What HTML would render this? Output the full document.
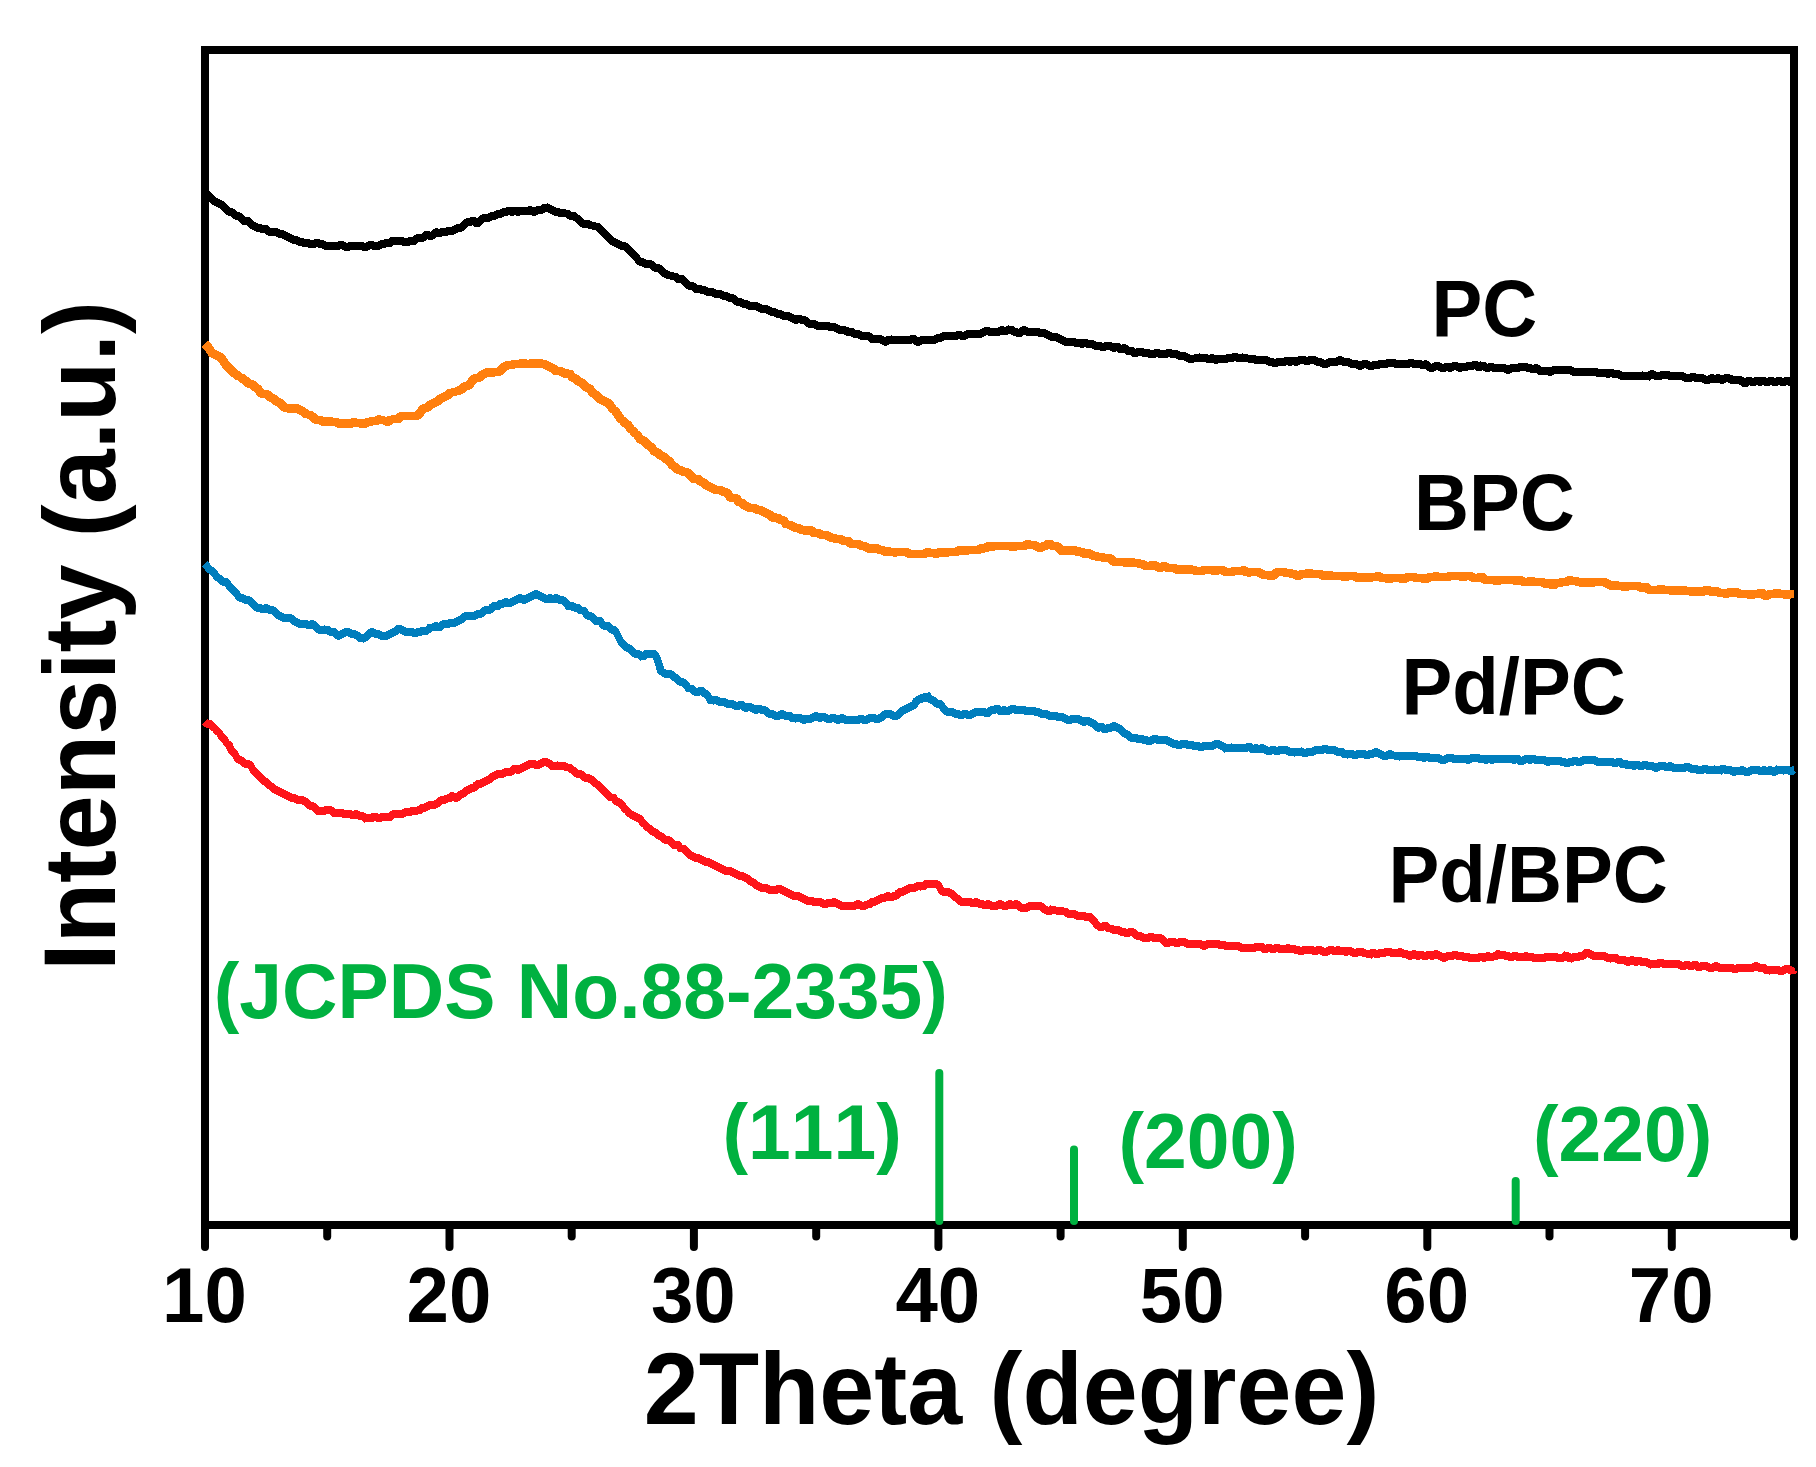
<!DOCTYPE html>
<html lang="en">
<head>
<meta charset="utf-8">
<title>XRD patterns</title>
<style>
html,body{margin:0;padding:0;background:#fff;}
body{width:1816px;height:1467px;overflow:hidden;}
svg{display:block;}
svg text{font-kerning:none;font-family:"Liberation Sans",Arial,Helvetica,sans-serif;font-weight:bold;}
.lab{font-size:76.2px;fill:#000;}
.grn{font-size:76.8px;fill:#00b140;}
.ttl{font-size:98.8px;fill:#000;}
.curve{fill:none;stroke-linejoin:bevel;stroke-linecap:butt;shape-rendering:crispEdges;}
</style>
</head>
<body>
<svg width="1816" height="1467" viewBox="0 0 1816 1467">
<rect x="0" y="0" width="1816" height="1467" fill="#ffffff"/>
<!-- frame -->
<rect x="205" y="50" width="1589" height="1175" fill="none" stroke="#000" stroke-width="8"/>
<!-- ticks -->
<g stroke="#000" stroke-width="8" stroke-linecap="round">
<line x1="205.0" y1="1225" x2="205.0" y2="1247"/>
<line x1="327.2" y1="1225" x2="327.2" y2="1236.5"/>
<line x1="449.5" y1="1225" x2="449.5" y2="1247"/>
<line x1="571.7" y1="1225" x2="571.7" y2="1236.5"/>
<line x1="693.9" y1="1225" x2="693.9" y2="1247"/>
<line x1="816.2" y1="1225" x2="816.2" y2="1236.5"/>
<line x1="938.4" y1="1225" x2="938.4" y2="1247"/>
<line x1="1060.6" y1="1225" x2="1060.6" y2="1236.5"/>
<line x1="1182.8" y1="1225" x2="1182.8" y2="1247"/>
<line x1="1305.1" y1="1225" x2="1305.1" y2="1236.5"/>
<line x1="1427.3" y1="1225" x2="1427.3" y2="1247"/>
<line x1="1549.5" y1="1225" x2="1549.5" y2="1236.5"/>
<line x1="1671.8" y1="1225" x2="1671.8" y2="1247"/>
<line x1="1794.0" y1="1225" x2="1794.0" y2="1236.5"/>
</g>
<!-- reference lines -->
<g stroke="#00b140" stroke-width="8" stroke-linecap="round">
<line x1="939.3" y1="1221" x2="939.3" y2="1073"/>
<line x1="1074" y1="1221" x2="1074" y2="1149.5"/>
<line x1="1515.7" y1="1221" x2="1515.7" y2="1181"/>
</g>
<!-- curves -->
<path class="curve" stroke="#000000" stroke-width="7.5" d="M205 194L207 194L209 196L211 198L213 200L215 202L217 202L219 204L221 204L223 206L225 208L227 210L229 212L231 212L233 212L235 216L237 216L239 216L241 218L243 220L245 222L247 220L249 222L251 224L253 226L255 226L257 228L259 228L261 228L263 230L265 228L267 230L269 232L271 232L273 232L275 232L277 232L279 234L281 234L283 234L285 236L287 236L289 238L291 238L293 240L295 240L297 240L299 242L301 242L303 242L305 244L307 242L309 244L311 244L313 244L315 244L317 242L319 244L321 244L323 244L325 246L327 246L329 246L331 246L333 246L335 246L337 246L339 246L341 244L343 246L345 246L347 248L349 246L351 246L353 246L355 246L357 246L359 246L361 246L363 246L365 248L367 246L369 246L371 244L373 246L375 246L377 246L379 246L381 244L383 244L385 244L387 242L389 244L391 242L393 240L395 242L397 240L399 242L401 240L403 242L405 242L407 242L409 242L411 240L413 242L415 240L417 238L419 238L421 238L423 238L425 236L427 234L429 236L431 236L433 236L435 232L437 232L439 234L441 232L443 232L445 232L447 232L449 230L451 232L453 230L455 230L457 228L459 228L461 228L463 226L465 224L467 222L469 222L471 222L473 220L475 222L477 224L479 222L481 220L483 218L485 218L487 218L489 218L491 216L493 216L495 216L497 214L499 214L501 214L503 212L505 212L507 212L509 210L511 212L513 212L515 210L517 212L519 212L521 210L523 212L525 210L527 212L529 210L531 210L533 212L535 212L537 210L539 210L541 210L543 210L545 206L547 208L549 208L551 210L553 210L555 212L557 212L559 212L561 214L563 212L565 214L567 212L569 216L571 216L573 214L575 218L577 218L579 220L581 222L583 224L585 224L587 224L589 224L591 226L593 224L595 228L597 226L599 228L601 230L603 232L605 234L607 236L609 238L611 240L613 242L615 242L617 244L619 244L621 246L623 246L625 246L627 248L629 250L631 252L633 254L635 256L637 258L639 262L641 262L643 262L645 264L647 264L649 264L651 264L653 266L655 268L657 268L659 268L661 270L663 272L665 274L667 274L669 276L671 274L673 278L675 276L677 278L679 280L681 278L683 280L685 282L687 284L689 286L691 286L693 286L695 288L697 290L699 288L701 290L703 290L705 290L707 292L709 292L711 292L713 292L715 294L717 294L719 294L721 294L723 296L725 296L727 296L729 298L731 298L733 298L735 300L737 302L739 302L741 302L743 304L745 304L747 304L749 306L751 306L753 306L755 306L757 306L759 308L761 308L763 310L765 308L767 310L769 310L771 312L773 312L775 312L777 314L779 314L781 314L783 316L785 316L787 316L789 316L791 318L793 318L795 320L797 320L799 318L801 320L803 320L805 320L807 322L809 324L811 324L813 324L815 324L817 326L819 326L821 326L823 326L825 326L827 326L829 326L831 328L833 326L835 328L837 328L839 330L841 330L843 330L845 330L847 332L849 332L851 330L853 334L855 334L857 334L859 334L861 336L863 336L865 336L867 336L869 336L871 338L873 340L875 338L877 340L879 338L881 340L883 340L885 342L887 342L889 338L891 340L893 340L895 340L897 340L899 340L901 340L903 340L905 340L907 340L909 340L911 340L913 338L915 340L917 342L919 342L921 340L923 340L925 340L927 340L929 340L931 340L933 340L935 340L937 338L939 338L941 338L943 336L945 336L947 336L949 336L951 336L953 336L955 336L957 336L959 334L961 336L963 336L965 336L967 334L969 334L971 334L973 334L975 334L977 334L979 334L981 334L983 332L985 332L987 330L989 332L991 332L993 332L995 332L997 332L999 332L1001 330L1003 330L1005 332L1007 330L1009 330L1011 328L1013 332L1015 332L1017 332L1019 334L1021 332L1023 330L1025 330L1027 332L1029 332L1031 332L1033 332L1035 332L1037 332L1039 332L1041 334L1043 332L1045 334L1047 334L1049 336L1051 336L1053 338L1055 336L1057 338L1059 338L1061 340L1063 340L1065 342L1067 342L1069 342L1071 342L1073 342L1075 342L1077 344L1079 342L1081 344L1083 344L1085 342L1087 344L1089 344L1091 344L1093 344L1095 346L1097 346L1099 346L1101 346L1103 348L1105 346L1107 346L1109 346L1111 346L1113 348L1115 348L1117 346L1119 348L1121 350L1123 348L1125 348L1127 350L1129 352L1131 350L1133 352L1135 354L1137 352L1139 352L1141 352L1143 352L1145 354L1147 352L1149 354L1151 354L1153 354L1155 354L1157 352L1159 354L1161 354L1163 354L1165 354L1167 354L1169 352L1171 354L1173 354L1175 354L1177 354L1179 356L1181 356L1183 356L1185 356L1187 358L1189 358L1191 360L1193 358L1195 360L1197 356L1199 358L1201 358L1203 358L1205 358L1207 358L1209 360L1211 358L1213 358L1215 360L1217 360L1219 358L1221 360L1223 358L1225 360L1227 358L1229 358L1231 358L1233 358L1235 356L1237 358L1239 358L1241 358L1243 358L1245 356L1247 360L1249 358L1251 360L1253 358L1255 360L1257 360L1259 360L1261 360L1263 360L1265 360L1267 360L1269 362L1271 362L1273 362L1275 364L1277 362L1279 362L1281 362L1283 362L1285 362L1287 360L1289 362L1291 362L1293 360L1295 362L1297 362L1299 360L1301 360L1303 360L1305 360L1307 362L1309 360L1311 360L1313 360L1315 360L1317 362L1319 362L1321 362L1323 364L1325 364L1327 364L1329 362L1331 362L1333 362L1335 362L1337 362L1339 360L1341 360L1343 362L1345 362L1347 362L1349 362L1351 364L1353 364L1355 364L1357 364L1359 366L1361 366L1363 364L1365 364L1367 364L1369 366L1371 366L1373 366L1375 364L1377 366L1379 364L1381 364L1383 364L1385 364L1387 364L1389 362L1391 364L1393 362L1395 364L1397 364L1399 364L1401 364L1403 364L1405 364L1407 364L1409 364L1411 362L1413 364L1415 364L1417 364L1419 364L1421 364L1423 366L1425 364L1427 364L1429 368L1431 368L1433 368L1435 366L1437 366L1439 366L1441 368L1443 368L1445 368L1447 366L1449 368L1451 368L1453 366L1455 366L1457 366L1459 368L1461 368L1463 366L1465 368L1467 366L1469 366L1471 366L1473 366L1475 364L1477 366L1479 368L1481 366L1483 364L1485 368L1487 368L1489 368L1491 366L1493 368L1495 368L1497 368L1499 368L1501 368L1503 368L1505 368L1507 370L1509 370L1511 368L1513 368L1515 368L1517 368L1519 368L1521 366L1523 368L1525 366L1527 368L1529 368L1531 368L1533 370L1535 368L1537 368L1539 370L1541 372L1543 370L1545 372L1547 370L1549 372L1551 372L1553 370L1555 370L1557 370L1559 370L1561 370L1563 370L1565 370L1567 370L1569 370L1571 370L1573 372L1575 372L1577 372L1579 372L1581 372L1583 372L1585 372L1587 372L1589 372L1591 372L1593 372L1595 372L1597 372L1599 374L1601 372L1603 374L1605 372L1607 374L1609 374L1611 372L1613 374L1615 374L1617 374L1619 374L1621 376L1623 376L1625 376L1627 376L1629 376L1631 376L1633 376L1635 376L1637 376L1639 376L1641 376L1643 376L1645 374L1647 378L1649 376L1651 374L1653 374L1655 376L1657 376L1659 376L1661 376L1663 374L1665 376L1667 374L1669 376L1671 376L1673 376L1675 376L1677 376L1679 376L1681 376L1683 376L1685 378L1687 378L1689 378L1691 378L1693 376L1695 378L1697 378L1699 378L1701 378L1703 378L1705 380L1707 380L1709 380L1711 378L1713 378L1715 380L1717 378L1719 378L1721 380L1723 380L1725 378L1727 378L1729 378L1731 380L1733 380L1735 378L1737 382L1739 380L1741 380L1743 382L1745 384L1747 382L1749 380L1751 382L1753 382L1755 382L1757 380L1759 382L1761 382L1763 380L1765 382L1767 382L1769 382L1771 380L1773 382L1775 382L1777 382L1779 380L1781 382L1783 382L1785 382L1787 380L1789 382L1791 382L1793 382L1794 382"/>
<path class="curve" stroke="#ff7f0e" stroke-width="8.6" d="M205 344L207 346L209 348L211 352L213 354L215 354L217 356L219 356L221 358L223 360L225 364L227 366L229 368L231 370L233 372L235 374L237 374L239 378L241 376L243 380L245 380L247 382L249 384L251 384L253 384L255 388L257 388L259 390L261 394L263 394L265 394L267 394L269 396L271 398L273 398L275 400L277 402L279 402L281 404L283 406L285 408L287 408L289 408L291 410L293 408L295 408L297 408L299 410L301 410L303 412L305 412L307 416L309 414L311 416L313 416L315 420L317 420L319 420L321 420L323 422L325 422L327 422L329 420L331 422L333 422L335 422L337 422L339 424L341 424L343 424L345 422L347 424L349 424L351 424L353 422L355 422L357 424L359 422L361 424L363 424L365 424L367 422L369 422L371 422L373 420L375 422L377 420L379 420L381 418L383 422L385 420L387 422L389 422L391 418L393 420L395 418L397 420L399 418L401 416L403 416L405 416L407 416L409 416L411 416L413 416L415 416L417 416L419 414L421 412L423 408L425 408L427 408L429 406L431 404L433 404L435 402L437 402L439 400L441 398L443 398L445 396L447 396L449 394L451 392L453 394L455 390L457 392L459 390L461 390L463 388L465 386L467 386L469 386L471 382L473 380L475 378L477 378L479 378L481 376L483 374L485 374L487 372L489 372L491 374L493 372L495 372L497 372L499 372L501 370L503 368L505 366L507 366L509 364L511 366L513 364L515 364L517 364L519 364L521 364L523 362L525 364L527 364L529 364L531 364L533 362L535 364L537 364L539 362L541 364L543 364L545 364L547 366L549 366L551 368L553 368L555 370L557 372L559 370L561 372L563 372L565 374L567 374L569 372L571 376L573 378L575 378L577 380L579 382L581 382L583 384L585 386L587 388L589 388L591 390L593 394L595 394L597 396L599 398L601 400L603 400L605 402L607 402L609 404L611 406L613 410L615 410L617 414L619 416L621 420L623 420L625 424L627 424L629 426L631 430L633 430L635 434L637 434L639 438L641 440L643 440L645 442L647 444L649 446L651 446L653 450L655 452L657 452L659 454L661 456L663 456L665 458L667 460L669 460L671 464L673 466L675 466L677 470L679 470L681 470L683 472L685 472L687 472L689 474L691 476L693 478L695 480L697 478L699 480L701 482L703 482L705 484L707 486L709 486L711 488L713 488L715 490L717 490L719 490L721 490L723 492L725 492L727 492L729 496L731 498L733 498L735 498L737 498L739 504L741 502L743 504L745 506L747 506L749 508L751 508L753 508L755 508L757 510L759 510L761 510L763 512L765 512L767 514L769 514L771 516L773 518L775 518L777 516L779 520L781 520L783 520L785 522L787 526L789 524L791 526L793 526L795 528L797 528L799 528L801 530L803 530L805 530L807 532L809 530L811 530L813 532L815 534L817 532L819 534L821 534L823 536L825 534L827 536L829 536L831 538L833 538L835 538L837 540L839 538L841 540L843 540L845 542L847 540L849 542L851 544L853 544L855 544L857 544L859 544L861 546L863 546L865 546L867 548L869 548L871 550L873 548L875 548L877 548L879 550L881 550L883 550L885 552L887 552L889 552L891 550L893 554L895 552L897 552L899 552L901 552L903 552L905 552L907 552L909 554L911 554L913 554L915 554L917 554L919 554L921 554L923 554L925 554L927 552L929 552L931 554L933 552L935 554L937 554L939 552L941 552L943 552L945 554L947 552L949 552L951 552L953 552L955 552L957 552L959 550L961 550L963 550L965 552L967 550L969 550L971 550L973 550L975 550L977 550L979 550L981 548L983 548L985 550L987 546L989 546L991 548L993 546L995 546L997 546L999 546L1001 546L1003 546L1005 546L1007 546L1009 546L1011 546L1013 548L1015 546L1017 546L1019 546L1021 546L1023 546L1025 546L1027 544L1029 544L1031 546L1033 544L1035 546L1037 546L1039 548L1041 548L1043 546L1045 546L1047 546L1049 542L1051 546L1053 546L1055 546L1057 546L1059 548L1061 550L1063 552L1065 550L1067 550L1069 552L1071 550L1073 550L1075 550L1077 552L1079 552L1081 550L1083 554L1085 554L1087 552L1089 554L1091 554L1093 556L1095 556L1097 556L1099 558L1101 556L1103 558L1105 558L1107 558L1109 558L1111 558L1113 562L1115 562L1117 562L1119 562L1121 562L1123 562L1125 562L1127 564L1129 562L1131 562L1133 562L1135 564L1137 562L1139 564L1141 564L1143 564L1145 566L1147 566L1149 566L1151 566L1153 564L1155 566L1157 566L1159 568L1161 568L1163 566L1165 566L1167 568L1169 568L1171 568L1173 568L1175 568L1177 570L1179 570L1181 568L1183 570L1185 570L1187 570L1189 568L1191 570L1193 570L1195 570L1197 572L1199 570L1201 572L1203 570L1205 570L1207 570L1209 570L1211 570L1213 570L1215 572L1217 570L1219 570L1221 570L1223 570L1225 572L1227 572L1229 572L1231 572L1233 572L1235 570L1237 572L1239 570L1241 572L1243 570L1245 570L1247 574L1249 572L1251 572L1253 572L1255 572L1257 572L1259 572L1261 574L1263 574L1265 576L1267 574L1269 576L1271 576L1273 576L1275 574L1277 572L1279 572L1281 572L1283 572L1285 572L1287 574L1289 572L1291 574L1293 574L1295 574L1297 576L1299 576L1301 574L1303 574L1305 574L1307 574L1309 572L1311 574L1313 574L1315 574L1317 574L1319 574L1321 574L1323 576L1325 576L1327 576L1329 574L1331 576L1333 576L1335 576L1337 576L1339 576L1341 576L1343 576L1345 578L1347 576L1349 576L1351 576L1353 576L1355 576L1357 578L1359 578L1361 576L1363 578L1365 578L1367 576L1369 578L1371 578L1373 576L1375 578L1377 576L1379 576L1381 578L1383 578L1385 578L1387 578L1389 580L1391 578L1393 578L1395 578L1397 578L1399 578L1401 578L1403 580L1405 578L1407 578L1409 576L1411 578L1413 576L1415 578L1417 578L1419 578L1421 578L1423 578L1425 580L1427 578L1429 578L1431 576L1433 578L1435 576L1437 576L1439 578L1441 576L1443 578L1445 576L1447 578L1449 576L1451 576L1453 576L1455 576L1457 576L1459 576L1461 576L1463 578L1465 576L1467 576L1469 576L1471 576L1473 578L1475 578L1477 578L1479 578L1481 576L1483 578L1485 580L1487 580L1489 580L1491 580L1493 580L1495 580L1497 582L1499 580L1501 580L1503 580L1505 580L1507 580L1509 580L1511 580L1513 580L1515 580L1517 582L1519 580L1521 580L1523 582L1525 582L1527 582L1529 582L1531 580L1533 582L1535 582L1537 582L1539 582L1541 582L1543 582L1545 584L1547 584L1549 582L1551 584L1553 586L1555 584L1557 582L1559 584L1561 582L1563 582L1565 582L1567 582L1569 580L1571 580L1573 582L1575 580L1577 582L1579 582L1581 582L1583 584L1585 582L1587 582L1589 582L1591 584L1593 582L1595 582L1597 582L1599 582L1601 582L1603 582L1605 582L1607 584L1609 584L1611 586L1613 586L1615 584L1617 586L1619 586L1621 586L1623 586L1625 588L1627 586L1629 586L1631 586L1633 586L1635 586L1637 586L1639 586L1641 588L1643 588L1645 586L1647 588L1649 590L1651 590L1653 590L1655 590L1657 590L1659 590L1661 588L1663 590L1665 590L1667 590L1669 590L1671 590L1673 592L1675 590L1677 590L1679 592L1681 590L1683 590L1685 590L1687 592L1689 590L1691 592L1693 592L1695 592L1697 590L1699 592L1701 592L1703 592L1705 590L1707 590L1709 590L1711 592L1713 592L1715 590L1717 592L1719 592L1721 594L1723 592L1725 594L1727 594L1729 592L1731 592L1733 594L1735 592L1737 592L1739 594L1741 594L1743 594L1745 594L1747 594L1749 594L1751 596L1753 594L1755 594L1757 594L1759 594L1761 592L1763 594L1765 596L1767 596L1769 594L1771 594L1773 594L1775 594L1777 592L1779 594L1781 594L1783 594L1785 594L1787 596L1789 594L1791 594L1793 594L1794 594"/>
<path class="curve" stroke="#007ebd" stroke-width="7.6" d="M205 564L207 566L209 570L211 570L213 572L215 574L217 578L219 578L221 580L223 582L225 582L227 582L229 586L231 588L233 590L235 592L237 594L239 598L241 598L243 598L245 600L247 600L249 600L251 602L253 604L255 606L257 608L259 608L261 608L263 610L265 608L267 608L269 610L271 610L273 610L275 612L277 614L279 616L281 616L283 618L285 618L287 618L289 618L291 618L293 620L295 622L297 622L299 624L301 624L303 624L305 624L307 624L309 626L311 624L313 624L315 626L317 628L319 630L321 630L323 630L325 630L327 628L329 632L331 632L333 632L335 632L337 636L339 636L341 634L343 634L345 632L347 632L349 632L351 634L353 634L355 634L357 636L359 636L361 640L363 638L365 638L367 636L369 634L371 632L373 632L375 634L377 634L379 634L381 636L383 636L385 636L387 636L389 634L391 634L393 632L395 632L397 630L399 628L401 630L403 630L405 632L407 632L409 632L411 632L413 632L415 634L417 632L419 632L421 632L423 630L425 632L427 630L429 630L431 626L433 628L435 626L437 626L439 628L441 626L443 624L445 624L447 624L449 624L451 622L453 624L455 622L457 622L459 620L461 620L463 618L465 616L467 616L469 616L471 616L473 616L475 616L477 614L479 614L481 614L483 612L485 610L487 610L489 610L491 610L493 606L495 606L497 608L499 604L501 604L503 604L505 602L507 602L509 604L511 602L513 602L515 600L517 600L519 598L521 598L523 600L525 600L527 598L529 598L531 596L533 596L535 594L537 594L539 596L541 596L543 598L545 598L547 600L549 598L551 598L553 600L555 598L557 598L559 600L561 600L563 600L565 602L567 604L569 608L571 606L573 606L575 608L577 608L579 608L581 612L583 610L585 612L587 616L589 616L591 616L593 618L595 620L597 622L599 620L601 622L603 626L605 626L607 626L609 626L611 630L613 630L615 630L617 634L619 638L621 642L623 644L625 646L627 648L629 648L631 650L633 652L635 654L637 654L639 654L641 656L643 658L645 654L647 654L649 654L651 654L653 654L655 654L657 658L659 664L661 672L663 672L665 674L667 674L669 674L671 674L673 676L675 678L677 678L679 682L681 682L683 682L685 684L687 686L689 690L691 688L693 690L695 692L697 692L699 692L701 690L703 692L705 694L707 694L709 698L711 702L713 700L715 700L717 700L719 702L721 702L723 702L725 702L727 704L729 704L731 704L733 704L735 706L737 706L739 706L741 704L743 706L745 708L747 708L749 706L751 708L753 708L755 710L757 710L759 708L761 710L763 710L765 710L767 712L769 714L771 714L773 714L775 716L777 716L779 716L781 714L783 714L785 716L787 716L789 716L791 716L793 720L795 718L797 718L799 718L801 718L803 720L805 720L807 718L809 720L811 718L813 718L815 716L817 716L819 718L821 718L823 716L825 718L827 718L829 720L831 718L833 718L835 718L837 720L839 720L841 718L843 718L845 720L847 720L849 720L851 720L853 720L855 720L857 720L859 720L861 718L863 720L865 720L867 720L869 718L871 718L873 718L875 718L877 720L879 718L881 718L883 716L885 714L887 714L889 714L891 714L893 716L895 716L897 716L899 714L901 712L903 710L905 710L907 708L909 708L911 706L913 706L915 704L917 700L919 700L921 698L923 698L925 700L927 694L929 698L931 700L933 700L935 702L937 704L939 704L941 704L943 708L945 710L947 712L949 712L951 712L953 712L955 714L957 714L959 714L961 716L963 714L965 714L967 714L969 716L971 714L973 714L975 712L977 712L979 712L981 712L983 712L985 712L987 714L989 712L991 710L993 710L995 710L997 708L999 710L1001 712L1003 710L1005 710L1007 712L1009 710L1011 710L1013 708L1015 710L1017 710L1019 710L1021 710L1023 710L1025 710L1027 712L1029 710L1031 712L1033 710L1035 712L1037 712L1039 712L1041 714L1043 714L1045 714L1047 714L1049 716L1051 716L1053 716L1055 716L1057 716L1059 718L1061 716L1063 718L1065 718L1067 720L1069 720L1071 720L1073 718L1075 720L1077 718L1079 720L1081 720L1083 722L1085 722L1087 720L1089 722L1091 722L1093 724L1095 724L1097 728L1099 728L1101 726L1103 728L1105 730L1107 728L1109 728L1111 728L1113 726L1115 726L1117 728L1119 728L1121 730L1123 732L1125 734L1127 734L1129 736L1131 738L1133 738L1135 738L1137 738L1139 740L1141 738L1143 740L1145 740L1147 740L1149 742L1151 740L1153 740L1155 738L1157 740L1159 740L1161 740L1163 740L1165 740L1167 740L1169 742L1171 742L1173 744L1175 744L1177 744L1179 746L1181 744L1183 744L1185 744L1187 744L1189 746L1191 744L1193 746L1195 746L1197 746L1199 746L1201 748L1203 746L1205 746L1207 746L1209 746L1211 746L1213 746L1215 744L1217 744L1219 744L1221 746L1223 746L1225 748L1227 750L1229 746L1231 748L1233 748L1235 748L1237 748L1239 748L1241 748L1243 748L1245 748L1247 748L1249 746L1251 748L1253 750L1255 748L1257 748L1259 750L1261 748L1263 748L1265 750L1267 750L1269 752L1271 750L1273 750L1275 750L1277 752L1279 750L1281 750L1283 750L1285 750L1287 750L1289 752L1291 752L1293 752L1295 752L1297 754L1299 750L1301 752L1303 752L1305 754L1307 752L1309 752L1311 752L1313 752L1315 750L1317 750L1319 750L1321 750L1323 750L1325 748L1327 750L1329 750L1331 750L1333 750L1335 750L1337 752L1339 752L1341 752L1343 752L1345 756L1347 754L1349 754L1351 754L1353 754L1355 756L1357 754L1359 754L1361 754L1363 754L1365 754L1367 756L1369 754L1371 754L1373 754L1375 752L1377 752L1379 754L1381 754L1383 756L1385 756L1387 756L1389 754L1391 754L1393 756L1395 754L1397 758L1399 756L1401 756L1403 756L1405 756L1407 756L1409 756L1411 756L1413 756L1415 756L1417 756L1419 758L1421 756L1423 758L1425 758L1427 756L1429 758L1431 758L1433 758L1435 758L1437 758L1439 758L1441 760L1443 760L1445 760L1447 758L1449 758L1451 758L1453 758L1455 760L1457 758L1459 760L1461 758L1463 760L1465 758L1467 760L1469 760L1471 758L1473 758L1475 758L1477 758L1479 758L1481 760L1483 758L1485 760L1487 760L1489 758L1491 760L1493 760L1495 758L1497 760L1499 758L1501 760L1503 758L1505 760L1507 758L1509 760L1511 758L1513 760L1515 760L1517 758L1519 760L1521 762L1523 760L1525 760L1527 758L1529 760L1531 760L1533 758L1535 760L1537 760L1539 760L1541 760L1543 760L1545 760L1547 762L1549 762L1551 760L1553 762L1555 760L1557 762L1559 760L1561 762L1563 762L1565 762L1567 764L1569 762L1571 762L1573 762L1575 760L1577 762L1579 762L1581 762L1583 760L1585 760L1587 760L1589 760L1591 760L1593 760L1595 760L1597 762L1599 762L1601 762L1603 762L1605 762L1607 762L1609 762L1611 762L1613 762L1615 764L1617 762L1619 762L1621 762L1623 766L1625 764L1627 764L1629 766L1631 764L1633 766L1635 766L1637 764L1639 766L1641 766L1643 766L1645 764L1647 766L1649 766L1651 766L1653 766L1655 768L1657 768L1659 766L1661 766L1663 766L1665 766L1667 768L1669 766L1671 766L1673 768L1675 768L1677 768L1679 768L1681 768L1683 768L1685 768L1687 766L1689 768L1691 768L1693 770L1695 768L1697 770L1699 770L1701 770L1703 770L1705 768L1707 770L1709 770L1711 770L1713 770L1715 770L1717 768L1719 772L1721 770L1723 768L1725 770L1727 770L1729 770L1731 770L1733 772L1735 772L1737 770L1739 772L1741 770L1743 770L1745 772L1747 772L1749 772L1751 770L1753 770L1755 770L1757 770L1759 770L1761 772L1763 770L1765 770L1767 772L1769 770L1771 770L1773 772L1775 772L1777 770L1779 768L1781 772L1783 770L1785 770L1787 770L1789 770L1791 772L1793 770L1794 770"/>
<path class="curve" stroke="#fe151a" stroke-width="7.6" d="M205 722L207 724L209 724L211 724L213 728L215 728L217 732L219 732L221 736L223 738L225 740L227 744L229 744L231 750L233 752L235 754L237 758L239 760L241 760L243 762L245 764L247 764L249 764L251 766L253 770L255 772L257 774L259 776L261 778L263 780L265 782L267 782L269 786L271 786L273 788L275 790L277 790L279 792L281 792L283 794L285 794L287 796L289 796L291 798L293 798L295 798L297 800L299 800L301 800L303 800L305 802L307 802L309 806L311 806L313 806L315 808L317 810L319 812L321 810L323 812L325 810L327 810L329 810L331 810L333 812L335 814L337 812L339 814L341 812L343 814L345 814L347 814L349 814L351 814L353 816L355 814L357 814L359 816L361 816L363 816L365 818L367 820L369 816L371 818L373 818L375 816L377 818L379 818L381 818L383 816L385 818L387 816L389 818L391 816L393 814L395 814L397 814L399 814L401 814L403 814L405 812L407 812L409 812L411 812L413 810L415 812L417 810L419 812L421 808L423 808L425 808L427 806L429 806L431 804L433 806L435 804L437 804L439 802L441 800L443 800L445 800L447 798L449 800L451 796L453 796L455 798L457 798L459 796L461 794L463 794L465 792L467 790L469 790L471 788L473 788L475 788L477 784L479 784L481 784L483 782L485 782L487 780L489 780L491 778L493 776L495 776L497 774L499 774L501 774L503 774L505 772L507 772L509 772L511 772L513 770L515 768L517 770L519 770L521 768L523 768L525 766L527 766L529 764L531 764L533 764L535 764L537 766L539 764L541 764L543 762L545 762L547 762L549 764L551 764L553 768L555 764L557 766L559 766L561 766L563 766L565 766L567 768L569 766L571 770L573 770L575 772L577 774L579 774L581 774L583 776L585 778L587 778L589 778L591 780L593 780L595 784L597 784L599 786L601 788L603 790L605 792L607 794L609 796L611 798L613 796L615 800L617 802L619 802L621 804L623 806L625 810L627 810L629 814L631 814L633 816L635 816L637 818L639 818L641 820L643 824L645 824L647 828L649 828L651 830L653 832L655 832L657 834L659 836L661 836L663 838L665 840L667 840L669 840L671 842L673 844L675 846L677 844L679 846L681 850L683 848L685 850L687 852L689 854L691 856L693 856L695 858L697 858L699 858L701 860L703 860L705 862L707 862L709 862L711 864L713 864L715 866L717 866L719 868L721 868L723 870L725 870L727 872L729 870L731 872L733 872L735 874L737 874L739 876L741 876L743 876L745 878L747 878L749 880L751 882L753 882L755 884L757 886L759 886L761 888L763 888L765 888L767 888L769 890L771 890L773 890L775 890L777 890L779 888L781 890L783 890L785 892L787 892L789 894L791 894L793 896L795 896L797 896L799 896L801 898L803 898L805 900L807 900L809 902L811 900L813 902L815 902L817 902L819 902L821 902L823 904L825 904L827 904L829 902L831 904L833 902L835 902L837 904L839 904L841 906L843 906L845 906L847 906L849 906L851 906L853 906L855 906L857 904L859 904L861 906L863 906L865 906L867 904L869 906L871 902L873 902L875 902L877 900L879 900L881 898L883 898L885 898L887 896L889 896L891 898L893 896L895 896L897 896L899 892L901 892L903 892L905 890L907 890L909 888L911 888L913 888L915 888L917 886L919 886L921 886L923 888L925 884L927 884L929 884L931 884L933 884L935 884L937 884L939 886L941 890L943 892L945 892L947 892L949 892L951 894L953 894L955 898L957 898L959 900L961 902L963 902L965 902L967 902L969 902L971 902L973 904L975 902L977 902L979 904L981 904L983 904L985 906L987 904L989 904L991 906L993 906L995 906L997 906L999 904L1001 904L1003 906L1005 906L1007 906L1009 904L1011 904L1013 906L1015 904L1017 904L1019 906L1021 908L1023 908L1025 908L1027 908L1029 906L1031 906L1033 906L1035 906L1037 906L1039 906L1041 906L1043 908L1045 910L1047 910L1049 912L1051 910L1053 908L1055 912L1057 910L1059 912L1061 910L1063 912L1065 910L1067 914L1069 914L1071 914L1073 914L1075 914L1077 916L1079 916L1081 916L1083 916L1085 916L1087 918L1089 916L1091 918L1093 920L1095 922L1097 926L1099 926L1101 928L1103 926L1105 926L1107 926L1109 930L1111 928L1113 930L1115 930L1117 930L1119 930L1121 932L1123 932L1125 932L1127 934L1129 932L1131 932L1133 932L1135 934L1137 936L1139 936L1141 936L1143 938L1145 938L1147 938L1149 938L1151 936L1153 938L1155 938L1157 938L1159 938L1161 938L1163 940L1165 942L1167 944L1169 942L1171 942L1173 942L1175 942L1177 944L1179 942L1181 942L1183 942L1185 942L1187 944L1189 944L1191 944L1193 944L1195 944L1197 944L1199 944L1201 944L1203 946L1205 946L1207 944L1209 944L1211 944L1213 944L1215 944L1217 944L1219 944L1221 946L1223 944L1225 946L1227 946L1229 946L1231 946L1233 946L1235 946L1237 946L1239 946L1241 948L1243 948L1245 948L1247 948L1249 948L1251 948L1253 948L1255 948L1257 946L1259 948L1261 946L1263 948L1265 950L1267 948L1269 948L1271 948L1273 950L1275 948L1277 948L1279 948L1281 950L1283 948L1285 950L1287 948L1289 948L1291 950L1293 948L1295 950L1297 950L1299 950L1301 952L1303 950L1305 950L1307 950L1309 950L1311 950L1313 950L1315 952L1317 950L1319 950L1321 950L1323 952L1325 952L1327 952L1329 950L1331 950L1333 950L1335 952L1337 950L1339 950L1341 952L1343 950L1345 952L1347 952L1349 950L1351 952L1353 952L1355 954L1357 952L1359 952L1361 952L1363 952L1365 954L1367 952L1369 956L1371 954L1373 952L1375 954L1377 954L1379 954L1381 952L1383 954L1385 952L1387 952L1389 952L1391 952L1393 954L1395 952L1397 954L1399 952L1401 952L1403 954L1405 954L1407 954L1409 956L1411 956L1413 954L1415 954L1417 956L1419 956L1421 954L1423 956L1425 956L1427 956L1429 954L1431 956L1433 956L1435 954L1437 954L1439 956L1441 956L1443 958L1445 958L1447 956L1449 956L1451 956L1453 956L1455 954L1457 956L1459 956L1461 956L1463 956L1465 958L1467 956L1469 958L1471 958L1473 958L1475 958L1477 958L1479 958L1481 956L1483 958L1485 958L1487 956L1489 956L1491 958L1493 956L1495 958L1497 954L1499 954L1501 956L1503 954L1505 956L1507 956L1509 956L1511 958L1513 956L1515 956L1517 956L1519 958L1521 956L1523 958L1525 956L1527 956L1529 958L1531 956L1533 958L1535 958L1537 958L1539 958L1541 958L1543 958L1545 958L1547 956L1549 958L1551 956L1553 958L1555 956L1557 958L1559 958L1561 958L1563 958L1565 956L1567 954L1569 960L1571 958L1573 958L1575 956L1577 958L1579 956L1581 956L1583 956L1585 954L1587 952L1589 954L1591 954L1593 956L1595 956L1597 956L1599 956L1601 956L1603 956L1605 956L1607 958L1609 958L1611 958L1613 960L1615 956L1617 960L1619 960L1621 960L1623 960L1625 960L1627 962L1629 962L1631 960L1633 960L1635 962L1637 962L1639 960L1641 962L1643 962L1645 962L1647 962L1649 964L1651 964L1653 966L1655 962L1657 964L1659 964L1661 962L1663 964L1665 964L1667 964L1669 964L1671 964L1673 964L1675 964L1677 964L1679 964L1681 966L1683 966L1685 966L1687 964L1689 966L1691 966L1693 966L1695 964L1697 966L1699 968L1701 966L1703 966L1705 966L1707 966L1709 968L1711 968L1713 968L1715 966L1717 966L1719 968L1721 968L1723 968L1725 968L1727 968L1729 968L1731 968L1733 968L1735 970L1737 968L1739 968L1741 968L1743 968L1745 968L1747 968L1749 968L1751 968L1753 968L1755 966L1757 966L1759 968L1761 968L1763 968L1765 968L1767 972L1769 970L1771 970L1773 970L1775 970L1777 970L1779 970L1781 972L1783 970L1785 970L1787 968L1789 970L1791 970L1793 972L1794 970"/>
<!-- curve labels -->
<g class="lab">
<text transform="translate(1431.5 335.5) scale(1 1.045)">PC</text>
<text transform="translate(1414 530) scale(1 1.045)">BPC</text>
<text transform="translate(1401.5 714) scale(1 1.045)">Pd/PC</text>
<text transform="translate(1388.5 902) scale(1 1.045)">Pd/BPC</text>
</g>
<g class="grn">
<text transform="translate(213.8 1017.6) scale(1 1.02)">(JCPDS No.88-2335)</text>
<text transform="translate(722.5 1158.8) scale(1 1.02)">(111)</text>
<text transform="translate(1118.5 1168.3) scale(1 1.02)">(200)</text>
<text transform="translate(1533 1160.5) scale(1 1.02)">(220)</text>
</g>
<!-- tick labels -->
<g class="lab">
<text text-anchor="middle" transform="translate(204.4 1322) scale(1 1.02)">10</text>
<text text-anchor="middle" transform="translate(448.9 1322) scale(1 1.02)">20</text>
<text text-anchor="middle" transform="translate(693.3 1322) scale(1 1.02)">30</text>
<text text-anchor="middle" transform="translate(937.8 1322) scale(1 1.02)">40</text>
<text text-anchor="middle" transform="translate(1182.2 1322) scale(1 1.02)">50</text>
<text text-anchor="middle" transform="translate(1426.7 1322) scale(1 1.02)">60</text>
<text text-anchor="middle" transform="translate(1671.2 1322) scale(1 1.02)">70</text>
</g>
<!-- axis titles -->
<text class="ttl" text-anchor="middle" transform="translate(1011.5 1424.2) scale(1 1.03)">2Theta (degree)</text>
<text class="ttl" text-anchor="middle" transform="translate(115 636) rotate(-90) scale(1 1.03)">Intensity (a.u.)</text>
</svg>
</body>
</html>
